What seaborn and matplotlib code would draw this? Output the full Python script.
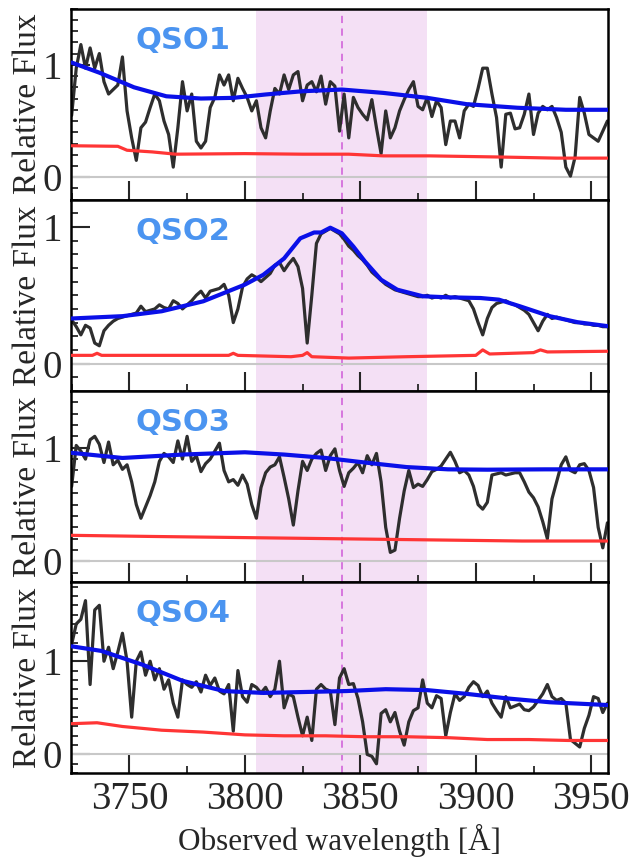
import numpy as np
import matplotlib
matplotlib.use("Agg")
import matplotlib.pyplot as plt
from matplotlib.ticker import MultipleLocator
import seaborn as sns

# wavelength grid of the spectra (Angstrom)
wave = np.arange(3725, 3958, 2)

qso_names = ["QSO1", "QSO2", "QSO3", "QSO4"]

# observed spectra (black)
flux_qso1 = [0.55, 0.97, 1.18, 0.97, 1.15, 0.97, 1.10, 0.85, 0.74, 0.78,
             0.82, 1.07, 0.59, 0.35, 0.15, 0.44, 0.49, 0.62, 0.74, 0.68,
             0.50, 0.38, 0.09, 0.44, 0.85, 0.59, 0.74, 0.32, 0.26, 0.32,
             0.62, 0.71, 0.91, 0.82, 0.91, 0.68, 0.88, 0.79, 0.71, 0.59,
             0.68, 0.44, 0.35, 0.59, 0.79, 0.74, 0.91, 0.78, 0.91, 0.94,
             0.68, 0.82, 0.85, 0.76, 0.90, 0.65, 0.85, 0.81, 0.41, 0.74,
             0.35, 0.71, 0.62, 0.56, 0.51, 0.69, 0.44, 0.21, 0.59, 0.35,
             0.44, 0.59, 0.69, 0.78, 0.85, 0.63, 0.60, 0.71, 0.54, 0.68,
             0.62, 0.29, 0.50, 0.50, 0.35, 0.59, 0.65, 0.63, 0.79, 0.97,
             0.97, 0.74, 0.53, 0.09, 0.56, 0.57, 0.43, 0.44, 0.56, 0.74,
             0.38, 0.57, 0.63, 0.60, 0.63, 0.53, 0.40, 0.09, 0.01, 0.18,
             0.71, 0.57, 0.38, 0.35, 0.32, 0.41, 0.50]
flux_qso2 = [0.32, 0.27, 0.21, 0.28, 0.26, 0.15, 0.13, 0.24, 0.28, 0.31,
             0.33, 0.34, 0.35, 0.36, 0.37, 0.42, 0.38, 0.39, 0.40, 0.43,
             0.41, 0.40, 0.46, 0.44, 0.40, 0.43, 0.46, 0.50, 0.53, 0.48,
             0.53, 0.54, 0.55, 0.58, 0.50, 0.30, 0.40, 0.56, 0.62, 0.65,
             0.63, 0.60, 0.63, 0.66, 0.72, 0.74, 0.68, 0.73, 0.77, 0.71,
             0.55, 0.15, 0.50, 0.88, 0.95, 0.97, 0.99, 0.97, 0.95, 0.91,
             0.86, 0.83, 0.79, 0.76, 0.72, 0.67, 0.64, 0.61, 0.58, 0.56,
             0.54, 0.53, 0.52, 0.51, 0.50, 0.49, 0.49, 0.50, 0.48, 0.49,
             0.48, 0.50, 0.48, 0.49, 0.48, 0.47, 0.46, 0.40, 0.30, 0.21,
             0.33, 0.41, 0.44, 0.45, 0.46, 0.44, 0.43, 0.41, 0.39, 0.36,
             0.30, 0.24, 0.31, 0.36, 0.33, 0.34, 0.33, 0.32, 0.31, 0.30,
             0.30, 0.29, 0.29, 0.28, 0.28, 0.27, 0.27]
flux_qso3 = [0.66, 1.02, 0.97, 0.90, 1.07, 1.10, 1.03, 0.87, 1.05, 0.85,
             0.89, 0.81, 0.85, 0.70, 0.50, 0.38, 0.48, 0.58, 0.70, 0.88,
             0.95, 0.92, 0.87, 1.06, 0.90, 1.10, 0.88, 0.93, 0.79, 0.86,
             0.90, 0.97, 1.04, 0.80, 0.70, 0.72, 0.67, 0.76, 0.68, 0.50,
             0.38, 0.65, 0.78, 0.83, 0.85, 0.92, 0.74, 0.55, 0.32, 0.62,
             0.88, 0.80, 0.90, 0.95, 0.98, 0.80, 0.93, 0.99, 0.80, 0.66,
             0.78, 0.82, 0.87, 0.78, 0.93, 0.85, 0.95, 0.70, 0.30, 0.08,
             0.10, 0.38, 0.62, 0.80, 0.65, 0.68, 0.66, 0.72, 0.79, 0.81,
             0.84, 0.90, 0.96, 0.88, 0.78, 0.80, 0.76, 0.66, 0.50, 0.46,
             0.52, 0.76, 0.77, 0.78, 0.76, 0.77, 0.78, 0.78, 0.70, 0.61,
             0.56, 0.48, 0.35, 0.20, 0.55, 0.70, 0.85, 0.92, 0.80, 0.78,
             0.85, 0.86, 0.80, 0.65, 0.30, 0.12, 0.34]
flux_qso4 = [1.18, 1.40, 1.45, 1.65, 0.75, 1.55, 1.60, 1.00, 1.15, 0.92,
             1.10, 1.30, 1.00, 0.40, 1.00, 1.10, 0.85, 1.00, 0.80, 0.92,
             0.70, 0.80, 0.55, 0.40, 0.80, 0.75, 0.72, 0.78, 0.67, 0.85,
             0.74, 0.82, 0.68, 0.65, 0.75, 0.25, 0.90, 0.62, 0.56, 0.75,
             0.72, 0.66, 0.72, 0.62, 0.70, 1.00, 0.50, 0.65, 0.62, 0.40,
             0.20, 0.40, 0.15, 0.70, 0.75, 0.70, 0.68, 0.32, 0.82, 0.92,
             0.75, 0.76, 0.60, 0.35, 0.00, -0.02, -0.10, 0.44, 0.48, 0.35,
             0.45, 0.25, 0.10, 0.35, 0.47, 0.50, 0.80, 0.55, 0.50, 0.63,
             0.60, 0.20, 0.45, 0.65, 0.58, 0.62, 0.72, 0.78, 0.74, 0.62,
             0.68, 0.55, 0.47, 0.40, 0.62, 0.50, 0.52, 0.54, 0.48, 0.47,
             0.51, 0.58, 0.65, 0.75, 0.62, 0.58, 0.60, 0.55, 0.16, 0.12,
             0.08, 0.28, 0.42, 0.62, 0.60, 0.45, 0.55]

# continuum / model fits (blue)
model_wave_qso1 = [3725, 3737, 3752, 3766, 3781, 3795, 3809, 3825, 3842, 3860, 3879, 3896, 3918, 3939, 3957]
model_qso1 = [1.02, 0.93, 0.80, 0.72, 0.70, 0.706, 0.736, 0.765, 0.78, 0.75, 0.706, 0.65, 0.618, 0.60, 0.60]
model_wave_qso2 = [3725, 3747, 3764, 3782, 3800, 3808, 3817, 3824, 3830, 3833, 3837, 3842, 3847, 3852,
                   3859, 3866, 3877, 3888, 3902, 3910, 3919, 3932, 3944, 3957]
model_qso2 = [0.33, 0.347, 0.383, 0.456, 0.578, 0.65, 0.77, 0.917, 0.96, 0.96, 0.995, 0.954, 0.857, 0.748,
              0.614, 0.541, 0.493, 0.485, 0.48, 0.468, 0.42, 0.347, 0.303, 0.274]
model_wave_qso3 = [3725, 3747, 3773, 3800, 3817, 3835, 3852, 3870, 3888, 3905, 3930, 3957]
model_qso3 = [0.955, 0.91, 0.94, 0.96, 0.94, 0.91, 0.87, 0.83, 0.81, 0.807, 0.81, 0.81]
model_wave_qso4 = [3725, 3738, 3756, 3773, 3791, 3808, 3826, 3844, 3861, 3879, 3896, 3914, 3932, 3957]
model_qso4 = [1.16, 1.11, 0.96, 0.79, 0.68, 0.66, 0.67, 0.68, 0.70, 0.69, 0.65, 0.60, 0.56, 0.53]

# flux errors (red)
err_wave_qso1 = [3725, 3745, 3749, 3760, 3770, 3800, 3825, 3845, 3860, 3880, 3910, 3935, 3957]
err_qso1 = [0.28, 0.275, 0.24, 0.225, 0.205, 0.21, 0.205, 0.205, 0.19, 0.19, 0.18, 0.17, 0.17]
err_wave_qso2 = [3725, 3734, 3736, 3738, 3760, 3793, 3795, 3797, 3820, 3825, 3827, 3829, 3845, 3870,
                 3900, 3903, 3906, 3925, 3928, 3931, 3957]
err_qso2 = [0.06, 0.06, 0.075, 0.06, 0.06, 0.06, 0.075, 0.06, 0.05, 0.06, 0.08, 0.05, 0.04, 0.05,
            0.06, 0.10, 0.07, 0.08, 0.10, 0.085, 0.09]
err_wave_qso3 = [3725, 3760, 3800, 3840, 3880, 3920, 3957]
err_qso3 = [0.23, 0.22, 0.21, 0.20, 0.19, 0.18, 0.18]
err_wave_qso4 = [3725, 3736, 3747, 3764, 3782, 3800, 3817, 3835, 3852, 3870, 3888, 3905, 3923, 3940, 3957]
err_qso4 = [0.33, 0.34, 0.30, 0.26, 0.24, 0.21, 0.20, 0.20, 0.19, 0.19, 0.18, 0.16, 0.16, 0.15, 0.15]

fluxes = [flux_qso1, flux_qso2, flux_qso3, flux_qso4]
models = [(model_wave_qso1, model_qso1), (model_wave_qso2, model_qso2),
          (model_wave_qso3, model_qso3), (model_wave_qso4, model_qso4)]
errors = [(err_wave_qso1, err_qso1), (err_wave_qso2, err_qso2),
          (err_wave_qso3, err_qso3), (err_wave_qso4, err_qso4)]
ylims = [(-0.2, 1.5), (-0.2, 1.2), (-0.18, 1.5), (-0.2, 1.85)]

window = (3804.8, 3878.7)
line_center = 3842.0

serif = ["Liberation Serif", "DejaVu Serif"]
sns.set_style("ticks")
plt.rcParams["font.family"] = serif

fig, axes = plt.subplots(4, 1, sharex=True, figsize=(6.37, 8.59), dpi=100)
fig.subplots_adjust(left=0.111, right=0.955, top=0.990, bottom=0.100, hspace=0)

for ax, name, flux, (mw, mf), (ew, ef), yl in zip(axes, qso_names, fluxes, models, errors, ylims):
    ax.axvspan(*window, color="#f4e0f5", lw=0, zorder=0)
    ax.axvline(line_center, color="#d46fdc", lw=1.3, ls=(0, (4, 3)), zorder=1)
    ax.axhline(0, color="#c8c8c8", lw=1.5, zorder=1)
    sns.lineplot(x=wave, y=flux, ax=ax, color="#2e2e2e", lw=2.3, zorder=2)
    sns.lineplot(x=ew, y=ef, ax=ax, color="#ff3535", lw=2.3, zorder=3)
    sns.lineplot(x=mw, y=mf, ax=ax, color="#0a10e8", lw=3.0, zorder=4)

    ax.set_xlim(3724.6, 3957.4)
    ax.set_ylim(*yl)
    ax.set_yticks([0, 1])
    ax.set_yticklabels(["0", "1"])
    ax.yaxis.set_minor_locator(MultipleLocator(0.1))
    ax.xaxis.set_major_locator(MultipleLocator(50))
    ax.xaxis.set_minor_locator(MultipleLocator(25))
    ax.tick_params(which="both", direction="in", top=False, right=False)
    ax.tick_params(which="major", length=14, width=1.5, labelsize=28, pad=6,
                   labelfontfamily="Liberation Serif")
    ax.tick_params(which="minor", length=5, width=1.3)
    for sp in ax.spines.values():
        sp.set_linewidth(1.8)
        sp.set_color("black")

    ax.set_ylabel("Relative Flux", fontsize=24, family=serif)
    ax.yaxis.set_label_coords(-0.052, 0.5)
    ax.set_xlabel("")
    ax.text(0.12, 0.79, name, transform=ax.transAxes, fontsize=22, fontweight="bold",
            color="#4b94f0", family=["DejaVu Sans"], va="baseline", ha="left")

axes[-1].set_xlabel("Observed wavelength [Å]", fontsize=22.5, labelpad=4, family=serif)

fig.savefig("out.png", dpi=100)
